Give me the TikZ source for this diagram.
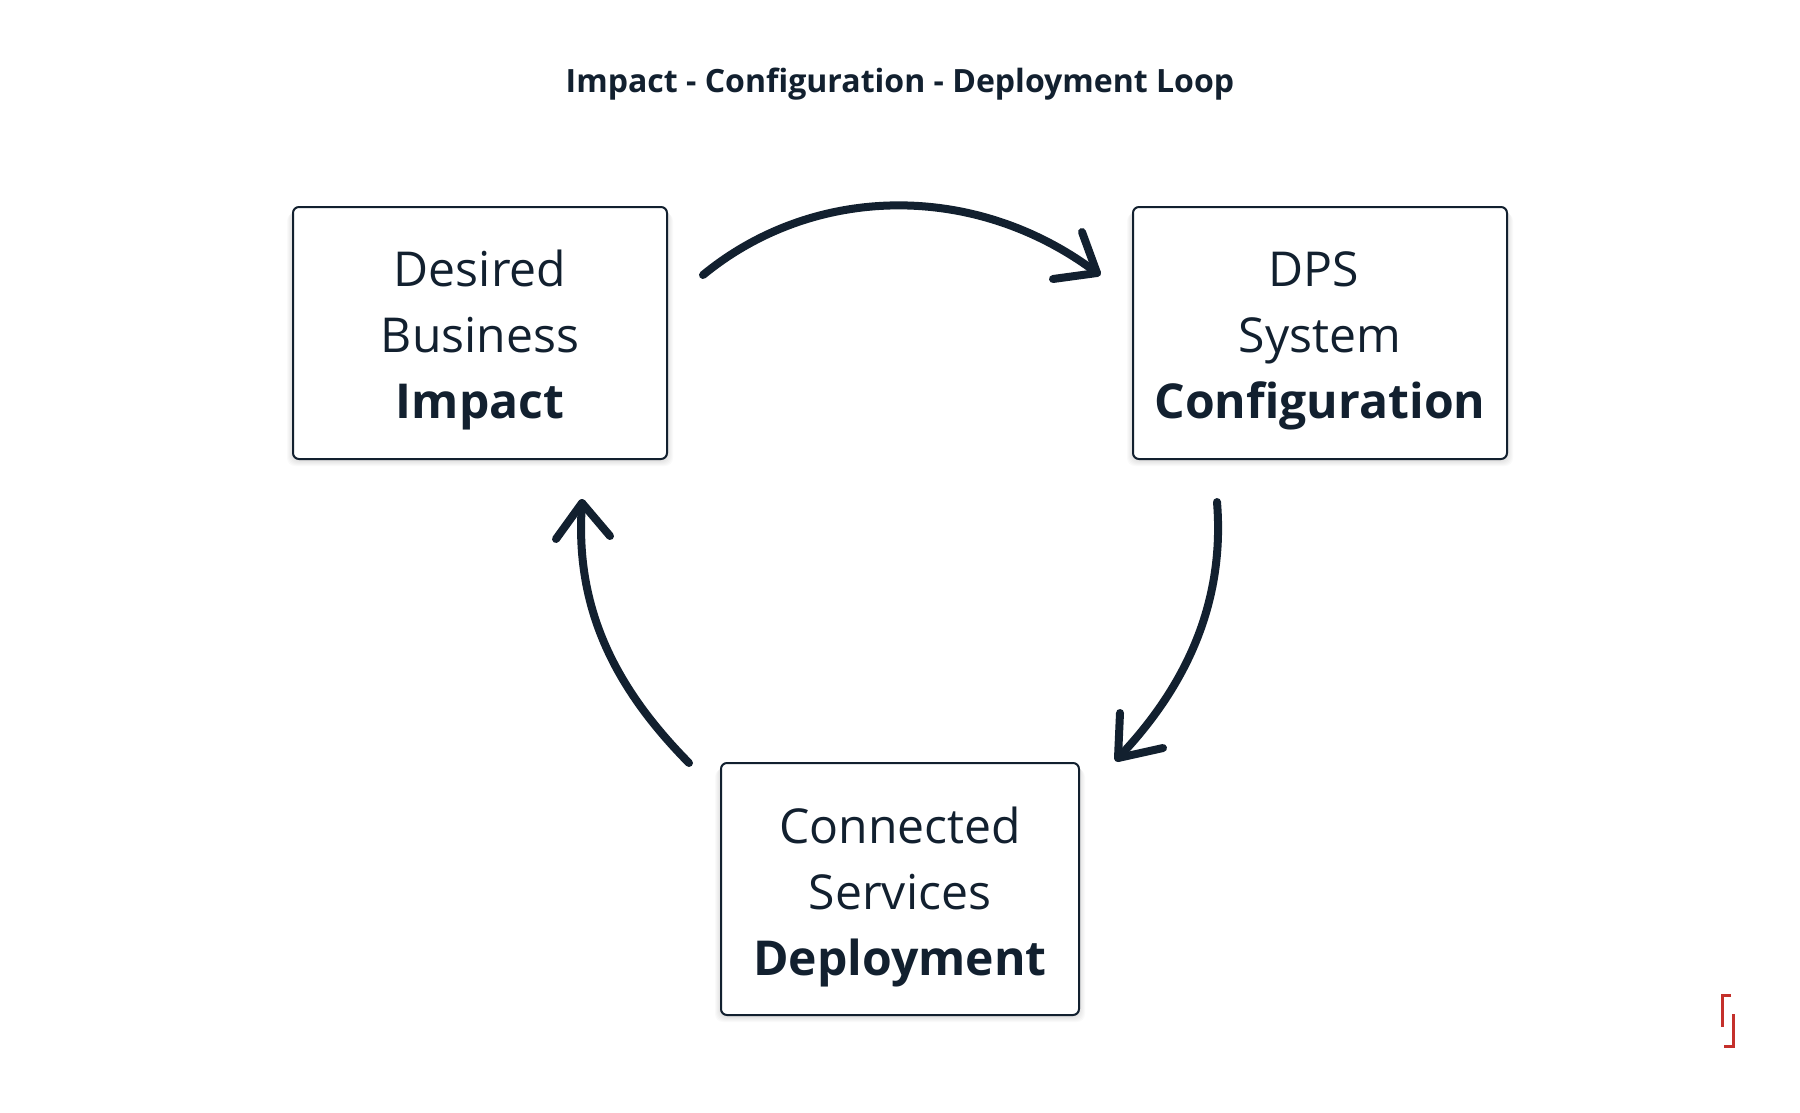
\documentclass[tikz,border=0pt]{standalone}
\usepackage{fontspec}
\setmainfont{Open Sans}
\definecolor{ink}{HTML}{12202F}
\definecolor{logored}{HTML}{C4302B}
\newcommand{\cardlines}[4][-8pt]{\raisebox{#1}[\height][\depth]{\parbox{340pt}{\centering #2\\#3\\\textbf{#4}}}}
\tikzset{
  card/.style={draw=ink,line width=2pt,rounded corners=6pt,fill=white,text=ink,
    minimum height=252pt,inner sep=0pt,font=\fontsize{48.1}{66}\selectfont},
  cardshadow/.style={fill=black,fill opacity=0.018,draw=none,rounded corners=8pt},
  flow/.style={draw=ink,line width=8pt,line cap=round,line join=round},
  brand/.style={draw=logored,line width=3.5pt,line cap=butt,line join=miter},
}
\begin{document}
\begin{tikzpicture}[x=1pt,y=-1pt]
\useasboundingbox (0,0) rectangle (1800,1112);
\fill[white] (0,0) rectangle (1800,1112);
\node[text=ink,font=\fontsize{32.05}{38}\selectfont\bfseries] (title) at (900,84.5) {Impact - Configuration - Deployment Loop};
% soft shadows
\foreach \a/\b/\c/\d in {293/207/667/459,1133/207/1507/459,721/763/1079/1015}{
  \foreach \g in {1,2,3,4,5,6}{
    \fill[cardshadow] (\a-\g,\b+\g) rectangle (\c+\g,\d+\g+1);
  }
}
\node[card,minimum width=374pt] (impact) at (480,333) {\cardlines[-7pt]{Desired}{Business}{Impact}};
\node[card,minimum width=374pt] (config) at (1320,333) {\cardlines{DPS\kern13pt}{System}{Configuration}};
\node[card,minimum width=358pt] (deploy) at (900,889) {\cardlines{Connected}{Services}{Deployment}};
% connector ends
\coordinate (a1) at (703,275); \coordinate (b1) at (1097,273);
\coordinate (a2) at (1217,502); \coordinate (b2) at (1118,758);
\coordinate (a3) at (689,763); \coordinate (b3) at (582,503);
\draw[flow] (a1) .. controls (815,183) and (977,182) .. (b1);
\draw[flow] (1082,232) -- (b1) -- (1053,279);
\draw[flow] (a2) .. controls (1225,600) and (1188,685) .. (b2);
\draw[flow] (1120,713) -- (b2) -- (1163,748);
\draw[flow] (a3) .. controls (617,690) and (574,610) .. (b3);
\draw[flow] (556,539) -- (b3) -- (610,536);
% logo
\draw[brand] (1731,995.5) -- (1722.5,995.5) -- (1722.5,1027);
\draw[brand] (1724,1046.5) -- (1733.5,1046.5) -- (1733.5,1014);
\end{tikzpicture}
\end{document}
